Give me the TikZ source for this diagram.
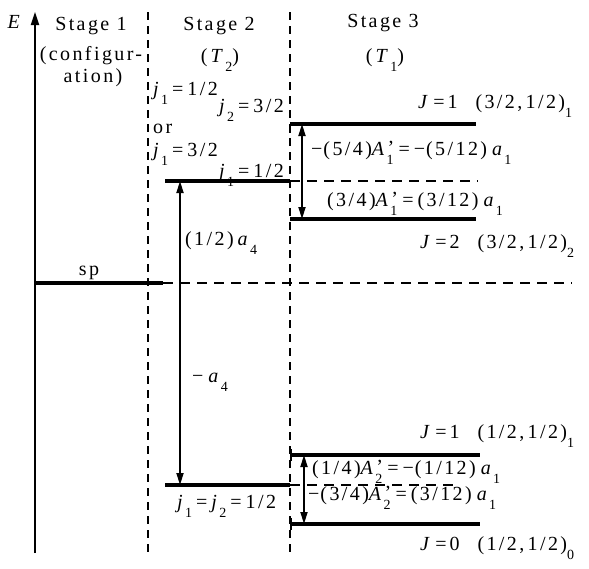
\documentclass[tikz,border=0pt]{standalone}
\usepackage{fontspec}
\setmainfont{Liberation Serif}[LetterSpace=12]
\usetikzlibrary{arrows.meta}
% dropped subscript digit
\newcommand{\lo}[1]{\raisebox{-9pt}{\fontsize{14}{14}\selectfont #1}}
% A-prime: the prime sits straight above the dropped subscript
\newcommand{\Ap}[1]{\textit{A}\raisebox{-9pt}{\fontsize{14}{14}\selectfont
  \makebox[0pt][l]{\hspace{1pt}\raisebox{9.5pt}{\fontsize{20}{20}\selectfont ’}}#1}}
\newcommand{\eqs}{\hspace{4pt}=\hspace{4pt}}
\newcommand{\eqn}{\hspace{3pt}=\hspace{3pt}}
\newcommand{\eqa}{\hspace{5pt}=\hspace{4pt}}
\begin{document}
\begin{tikzpicture}[x=1pt,y=-1pt,
  every node/.style={inner sep=0pt,font=\fontsize{20}{22}\selectfont},
  level/.style={line width=3.2pt},
  sep/.style={line width=1.5pt,dash pattern=on 8pt off 6pt},
  guide/.style={line width=1.4pt,dash pattern=on 10pt off 7pt},
  axis/.style={line width=1.8pt,-{Triangle[length=13pt,width=8pt]}},
  gap/.style={line width=1.7pt,{Triangle[length=12pt,width=7pt]}-{Triangle[length=12pt,width=7pt]}},
  tick/.style={line width=1.6pt}]
\useasboundingbox (0,0) rectangle (589,568);

% energy axis and stage separators
\coordinate (ax-b) at (35,553);
\coordinate (ax-t) at (35,12);
\draw[axis] (ax-b) -- (ax-t);
\node[anchor=base] (E) at (15,28) {\textit{E}};
\coordinate (s1-t) at (148,12);
\coordinate (s1-b) at (148,553);
\coordinate (s2-t) at (290,12);
\coordinate (s2-b) at (290,553);
\draw[sep] (s1-t) -- (s1-b);
\draw[sep] (s2-t) -- (s2-b);

% column headings
\node[anchor=base] (h1) at (91,30) {Stage 1};
\node[anchor=base] (h1b) at (91,60) {(configur-};
\node[anchor=base] (h1c) at (93,82) {ation)};
\node[anchor=base] (h2) at (219,30) {Stage 2};
\node[anchor=base] (h2b) at (220,62) {(\hspace{3pt}\textit{T}\lo{2})};
\node[anchor=base] (h3) at (383,27) {Stage 3};
\node[anchor=base] (h3b) at (385,62) {(\hspace{3pt}\textit{T}\lo{1})};

% stage 1: configuration level
\coordinate (sp-l) at (35,283);
\coordinate (sp-r) at (163,283);
\draw[level] (sp-l) -- (sp-r);
\node[anchor=base] (sp) at (89,275) {sp};
\coordinate (sp-end) at (572,283);
\draw[guide] (sp-r) -- (sp-end);

% stage 2 levels
\coordinate (u2-l) at (165,181);
\coordinate (u2-r) at (290,181);
\coordinate (d2-l) at (165,485);
\coordinate (d2-r) at (290,485);
\draw[level] (u2-l) -- (u2-r);
\draw[level] (d2-l) -- (d2-r);
\coordinate (u2-end) at (478,181);
\coordinate (d2-end) at (460,485);
\draw[guide] (u2-r) -- (u2-end);
\draw[guide] (d2-r) -- (d2-end);

\node[anchor=base west] (ja) at (153,95) {\textit{j}\lo{1}\eqs 1/2};
\node[anchor=base east] (jb) at (284,112) {\textit{j}\lo{2}\eqs 3/2};
\node[anchor=base west] (or) at (153,133) {or};
\node[anchor=base west] (jc) at (153,156) {\textit{j}\lo{1}\eqs 3/2};
\node[anchor=base east] (jd) at (284,177) {\textit{j}\lo{1}\eqs 1/2};
\node[anchor=base west] (je) at (177,508) {\textit{j}\lo{1}\eqs\textit{j}\lo{2}\eqs 1/2};

% stage 2 splitting arrows
\coordinate (a2-t) at (180,181);
\coordinate (a2-b) at (180,485);
\draw[gap] (a2-t) -- (a2-b);
\node[anchor=base west] (half) at (185,245) {(1/2)\hspace{4pt}\textit{a}\lo{4}};
\node[anchor=base west] (mina) at (192,382) {−\hspace{5pt}\textit{a}\lo{4}};

% stage 3 upper pair
\coordinate (J1u-l) at (290,124);
\coordinate (J1u-r) at (476,124);
\coordinate (J2-l) at (290,219);
\coordinate (J2-r) at (476,219);
\draw[level] (J1u-l) -- (J1u-r);
\draw[level] (J2-l) -- (J2-r);
\draw[tick] (J1u-l) -- ++(0,9);
\coordinate (a3u-t) at (302,124);
\coordinate (a3u-b) at (302,219);
\draw[gap] (a3u-t) -- (a3u-b);
\node[anchor=base west] (lJ1u) at (418,108) {\textit{J}\eqn 1\hspace{18pt}(3/2,\,1/2)\lo{1}};
\node[anchor=base west] (lJ2) at (420,248) {\textit{J}\eqn 2\hspace{18pt}(3/2,\,1/2)\lo{2}};
\node[anchor=base west] (e1) at (311,155) {−\hspace{1pt}(5/4)\Ap{1}\eqa−\hspace{1pt}(5/12)\hspace{5pt}\textit{a}\lo{1}};
\node[anchor=base west] (e2) at (327,206) {(3/4)\Ap{1}\eqa(3/12)\hspace{5pt}\textit{a}\lo{1}};

% stage 3 lower pair
\coordinate (J1d-l) at (291,455);
\coordinate (J1d-r) at (480,455);
\coordinate (J0-l) at (291,524);
\coordinate (J0-r) at (480,524);
\draw[level] (J1d-l) -- (J1d-r);
\draw[level] (J0-l) -- (J0-r);
\draw[tick] (J1d-l) ++(0,-6) -- ++(0,12);
\draw[tick] (J0-l) ++(0,-6) -- ++(0,12);
\coordinate (a3d-t) at (304,455);
\coordinate (a3d-b) at (304,524);
\draw[gap] (a3d-t) -- (a3d-b);
\node[anchor=base west] (lJ1d) at (420,438) {\textit{J}\eqn 1\hspace{18pt}(1/2,\,1/2)\lo{1}};
\node[anchor=base west] (lJ0) at (420,550) {\textit{J}\eqn 0\hspace{18pt}(1/2,\,1/2)\lo{0}};
\node[anchor=base west] (e3) at (312,474) {(1/4)\Ap{2}\eqa−\hspace{1pt}(1/12)\hspace{5pt}\textit{a}\lo{1}};
\node[anchor=base west] (e4) at (308,500) {−\hspace{1pt}(3/4)\Ap{2}\eqa(3/12)\hspace{5pt}\textit{a}\lo{1}};
\end{tikzpicture}
\end{document}
